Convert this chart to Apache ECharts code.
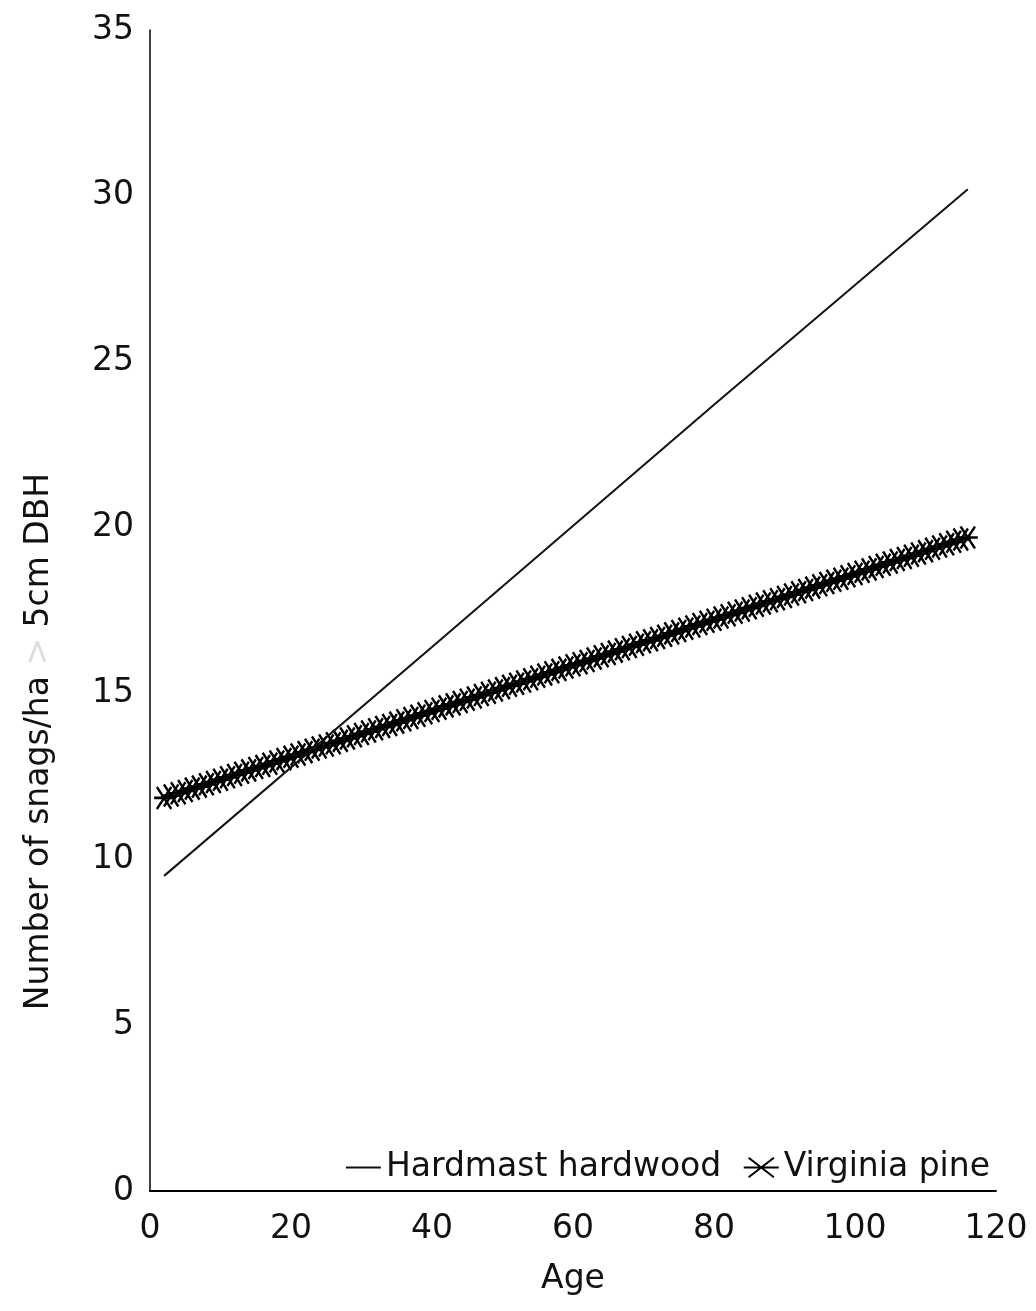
<!DOCTYPE html>
<html>
<head>
<meta charset="utf-8">
<script src="https://cdn.jsdelivr.net/npm/echarts@6/dist/echarts.min.js"></script>
<style>
html, body { margin: 0; padding: 0; background: #fff; }
#chart { width: 1036px; height: 1311px; }
</style>
</head>
<body>
<div id="chart"></div>
<script>
// hardwood: straight line, read at a few ages
var hardAge = [2, 40, 80, 116];
var hardSnags = [9.5, 16.4, 23.7, 30.2];

// virginia pine: one star per year of age
var pineAge = [2, 3, 4, 5, 6, 7, 8, 9, 10, 11, 12, 13, 14, 15, 16, 17, 18, 19, 20,
	21, 22, 23, 24, 25, 26, 27, 28, 29, 30, 31, 32, 33, 34, 35, 36, 37, 38, 39, 40,
	41, 42, 43, 44, 45, 46, 47, 48, 49, 50, 51, 52, 53, 54, 55, 56, 57, 58, 59, 60,
	61, 62, 63, 64, 65, 66, 67, 68, 69, 70, 71, 72, 73, 74, 75, 76, 77, 78, 79, 80,
	81, 82, 83, 84, 85, 86, 87, 88, 89, 90, 91, 92, 93, 94, 95, 96, 97, 98, 99, 100,
	101, 102, 103, 104, 105, 106, 107, 108, 109, 110, 111, 112, 113, 114, 115, 116];
var pineSnags = [11.85, 11.92, 11.99, 12.06, 12.13, 12.19, 12.26, 12.33, 12.40, 12.47,
	12.54, 12.61, 12.68, 12.75, 12.81, 12.88, 12.95, 13.02, 13.09, 13.16,
	13.23, 13.30, 13.37, 13.43, 13.50, 13.57, 13.64, 13.71, 13.78, 13.85,
	13.92, 13.99, 14.05, 14.12, 14.19, 14.26, 14.33, 14.40, 14.47, 14.54,
	14.61, 14.67, 14.74, 14.81, 14.88, 14.95, 15.02, 15.09, 15.16, 15.23,
	15.29, 15.36, 15.43, 15.50, 15.57, 15.64, 15.71, 15.78, 15.85, 15.91,
	15.98, 16.05, 16.12, 16.19, 16.26, 16.33, 16.40, 16.47, 16.54, 16.60,
	16.67, 16.74, 16.81, 16.88, 16.95, 17.02, 17.09, 17.16, 17.22, 17.29,
	17.36, 17.43, 17.50, 17.57, 17.64, 17.71, 17.78, 17.84, 17.91, 17.98,
	18.05, 18.12, 18.19, 18.26, 18.33, 18.40, 18.46, 18.53, 18.60, 18.67,
	18.74, 18.81, 18.88, 18.95, 19.02, 19.08, 19.15, 19.22, 19.29, 19.36,
	19.43, 19.50, 19.57, 19.64, 19.70];

var seriesNames = ['Hardmast hardwood', 'Virginia pine'];

function pairUp(xs, ys) {
	var out = [];
	for (var i = 0; i < xs.length; i++) {
		out.push([xs[i], ys[i]]);
	}
	return out;
}

var starPath = 'path://M0,10 L36,10 M5,0 L31,20 M5,20 L31,0';
var dashPath = 'path://M0,0 L35,0 L35,2 L0,2 Z';
var font = 'DejaVu Sans';

var chart = echarts.init(document.getElementById('chart'));
var option = {
	backgroundColor: '#fff',
	animation: false,
	grid: {
		left: 150,
		right: 40,
		top: 30,
		bottom: 120
	},
	legend: {
		right: 41,
		top: 1146,
		itemWidth: 35,
		itemHeight: 20,
		itemGap: 20,
		symbolKeepAspect: true,
		textStyle: {
			fontFamily: font,
			fontSize: 33,
			color: '#111'
		},
		data: [
			{ name: seriesNames[0], icon: dashPath },
			{ name: seriesNames[1] }
		]
	},
	xAxis: {
		type: 'value',
		min: 0,
		max: 120,
		interval: 20,
		name: 'Age',
		nameLocation: 'middle',
		nameGap: 72,
		nameTextStyle: { fontFamily: font, fontSize: 33, color: '#111' },
		axisLine: { lineStyle: { color: '#000', width: 2 } },
		axisTick: { show: false },
		splitLine: { show: false },
		axisLabel: { fontFamily: font, fontSize: 33, color: '#111', margin: 22 }
	},
	yAxis: {
		type: 'value',
		min: 0,
		max: 35,
		interval: 5,
		name: 'Number of snags/ha {f|>} 5cm DBH',
		nameLocation: 'middle',
		nameGap: 94,
		nameTextStyle: {
			fontFamily: font,
			fontSize: 33,
			color: '#111',
			padding: [0, 262, 0, 0],
			rich: {
				f: { fontFamily: font, fontSize: 33, color: '#ddd' }
			}
		},
		axisLine: { show: true, lineStyle: { color: '#000', width: 1.5 } },
		axisTick: { show: false },
		splitLine: { show: false },
		axisLabel: { fontFamily: font, fontSize: 33, color: '#111', margin: 16 }
	},
	series: [{
		name: seriesNames[0],
		type: 'line',
		symbol: 'none',
		data: pairUp(hardAge, hardSnags),
		lineStyle: { color: '#111', width: 2 },
		itemStyle: { color: '#111' }
	}, {
		name: seriesNames[1],
		type: 'scatter',
		symbol: starPath,
		symbolSize: [20, 22],
		data: pairUp(pineAge, pineSnags),
		itemStyle: { color: 'none', borderColor: '#000', borderWidth: 2.5, opacity: 1 }
	}]
};
chart.setOption(option);
</script>
</body>
</html>
